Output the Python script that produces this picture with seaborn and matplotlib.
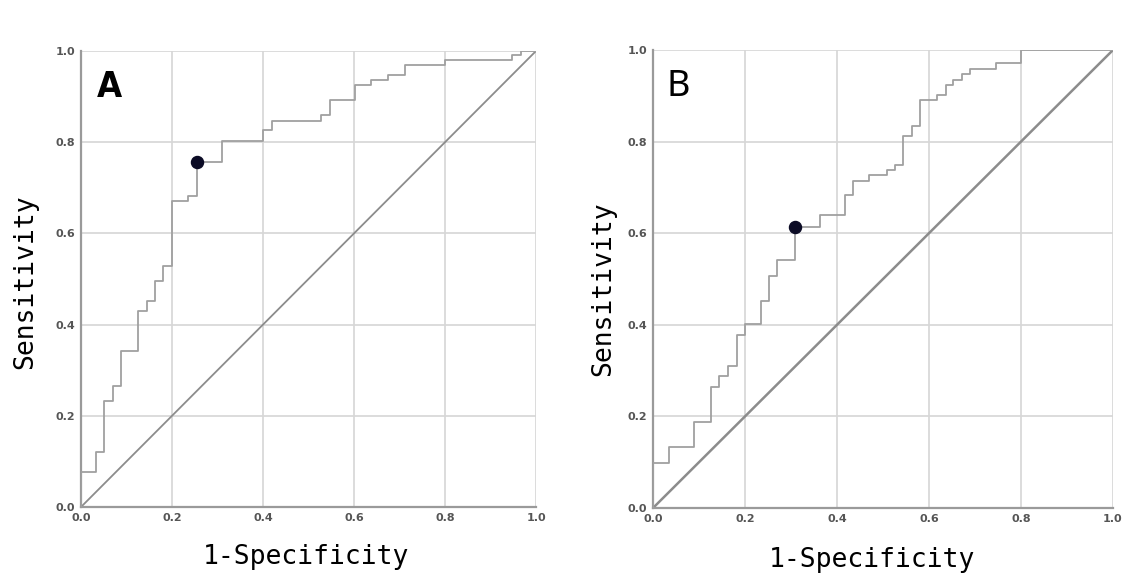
import matplotlib
matplotlib.use('Agg')
import matplotlib.pyplot as plt
import seaborn as sns
import pandas as pd

# ROC 곡선 좌표 (계단 시작점) - 그림에서 읽은 값
a_fpr = [0, 0, 0.033, 0.051, 0.070, 0.088, 0.126, 0.144, 0.163, 0.181, 0.200, 0.236, 0.254,
         0.309, 0.400, 0.419, 0.527, 0.547, 0.602, 0.637, 0.675, 0.712, 0.800, 0.948, 0.968, 1.0]
a_tpr = [0, 0.077, 0.121, 0.232, 0.265, 0.342, 0.430, 0.452, 0.496, 0.529, 0.671, 0.683, 0.756,
         0.803, 0.827, 0.847, 0.860, 0.893, 0.925, 0.936, 0.947, 0.969, 0.980, 0.991, 1.0, 1.0]

b_fpr = [0, 0, 0.035, 0.089, 0.126, 0.144, 0.162, 0.182, 0.200, 0.234, 0.253, 0.270, 0.309, 0.363,
         0.417, 0.435, 0.470, 0.508, 0.526, 0.544, 0.562, 0.580, 0.618, 0.637, 0.653, 0.671,
         0.689, 0.746, 0.800, 1.0]
b_tpr = [0, 0.099, 0.134, 0.188, 0.265, 0.288, 0.309, 0.378, 0.401, 0.452, 0.507, 0.541, 0.613, 0.640,
         0.683, 0.715, 0.727, 0.738, 0.749, 0.812, 0.834, 0.891, 0.902, 0.924, 0.934, 0.947,
         0.958, 0.971, 1.0, 1.0]

# cut-off 점
a_cut = (0.254, 0.756)
b_cut = (0.309, 0.613)

ticks = [0.0, 0.2, 0.4, 0.6, 0.8, 1.0]
tick_labels = ['0.0', '0.2', '0.4', '0.6', '0.8', '1.0']
panel_names = ['A', 'B']

sns.set_theme(style='whitegrid')
plt.rcParams['font.family'] = ['DejaVu Sans']

fig = plt.figure(figsize=(11.28, 5.78), dpi=100)
fig.patch.set_facecolor('white')

ax_a = fig.add_axes([81 / 1128, 1 - 507 / 578, 455 / 1128, 456 / 578])
ax_b = fig.add_axes([653 / 1128, 1 - 508 / 578, 460 / 1128, 458 / 578])


def draw_panel(ax, fpr, tpr, cut, name, diag_lw, name_font):
    df = pd.DataFrame({'fpr': fpr, 'tpr': tpr})
    sns.lineplot(data=df, x='fpr', y='tpr', ax=ax, estimator=None, sort=False,
                 drawstyle='steps-post', color='#a0a0a0', linewidth=1.3, zorder=3)
    diag = pd.DataFrame({'x': [0, 1], 'y': [0, 1]})
    sns.lineplot(data=diag, x='x', y='y', ax=ax, estimator=None, sort=False,
                 color='#8c8c8c', linewidth=diag_lw, zorder=2)
    ax.scatter([cut[0]], [cut[1]], s=75, color='#0b0b25', zorder=5)

    ax.set_xlim(0, 1)
    ax.set_ylim(0, 1)
    ax.set_xticks(ticks)
    ax.set_yticks(ticks)
    ax.set_xticklabels(tick_labels)
    ax.set_yticklabels(tick_labels)
    ax.tick_params(axis='both', labelsize=8, colors='#555555', pad=4, length=0)
    for lab in ax.get_xticklabels() + ax.get_yticklabels():
        lab.set_fontweight('semibold')
    ax.grid(True, color='#d6d6d6', linewidth=1.2)
    ax.set_facecolor('white')
    for s in ['top', 'right']:
        ax.spines[s].set_visible(False)
    for s in ['left', 'bottom']:
        ax.spines[s].set_color('#9a9a9a')
        ax.spines[s].set_linewidth(1.6)
    ax.set_xlabel('')
    ax.set_ylabel('')
    ax.text(0.062 if name == 'A' else 0.054, 0.92, name, ha='center', va='center',
            fontsize=26, **name_font, color='black')


draw_panel(ax_a, a_fpr, a_tpr, a_cut, 'A', 1.3,
           {'fontweight': 'bold', 'family': 'DejaVu Sans', 'fontstretch': 'condensed'})
draw_panel(ax_b, b_fpr, b_tpr, b_cut, 'B', 1.8,
           {'fontweight': 'normal', 'family': 'Noto Sans'})

# 축 제목
lab_font = dict(family='DejaVu Sans Mono', fontsize=19, color='black')
fig.text(25 / 1128, 1 - 282 / 578, 'Sensitivity', rotation=90, ha='center', va='center', **lab_font)
fig.text(603 / 1128, 1 - 289 / 578, 'Sensitivity', rotation=90, ha='center', va='center', **lab_font)
fig.text(306 / 1128, 1 - 557 / 578, '1-Specificity', ha='center', va='center', **lab_font)
fig.text(872 / 1128, 1 - 560 / 578, '1-Specificity', ha='center', va='center', **lab_font)

fig.savefig('out.png', dpi=100, facecolor='white')
